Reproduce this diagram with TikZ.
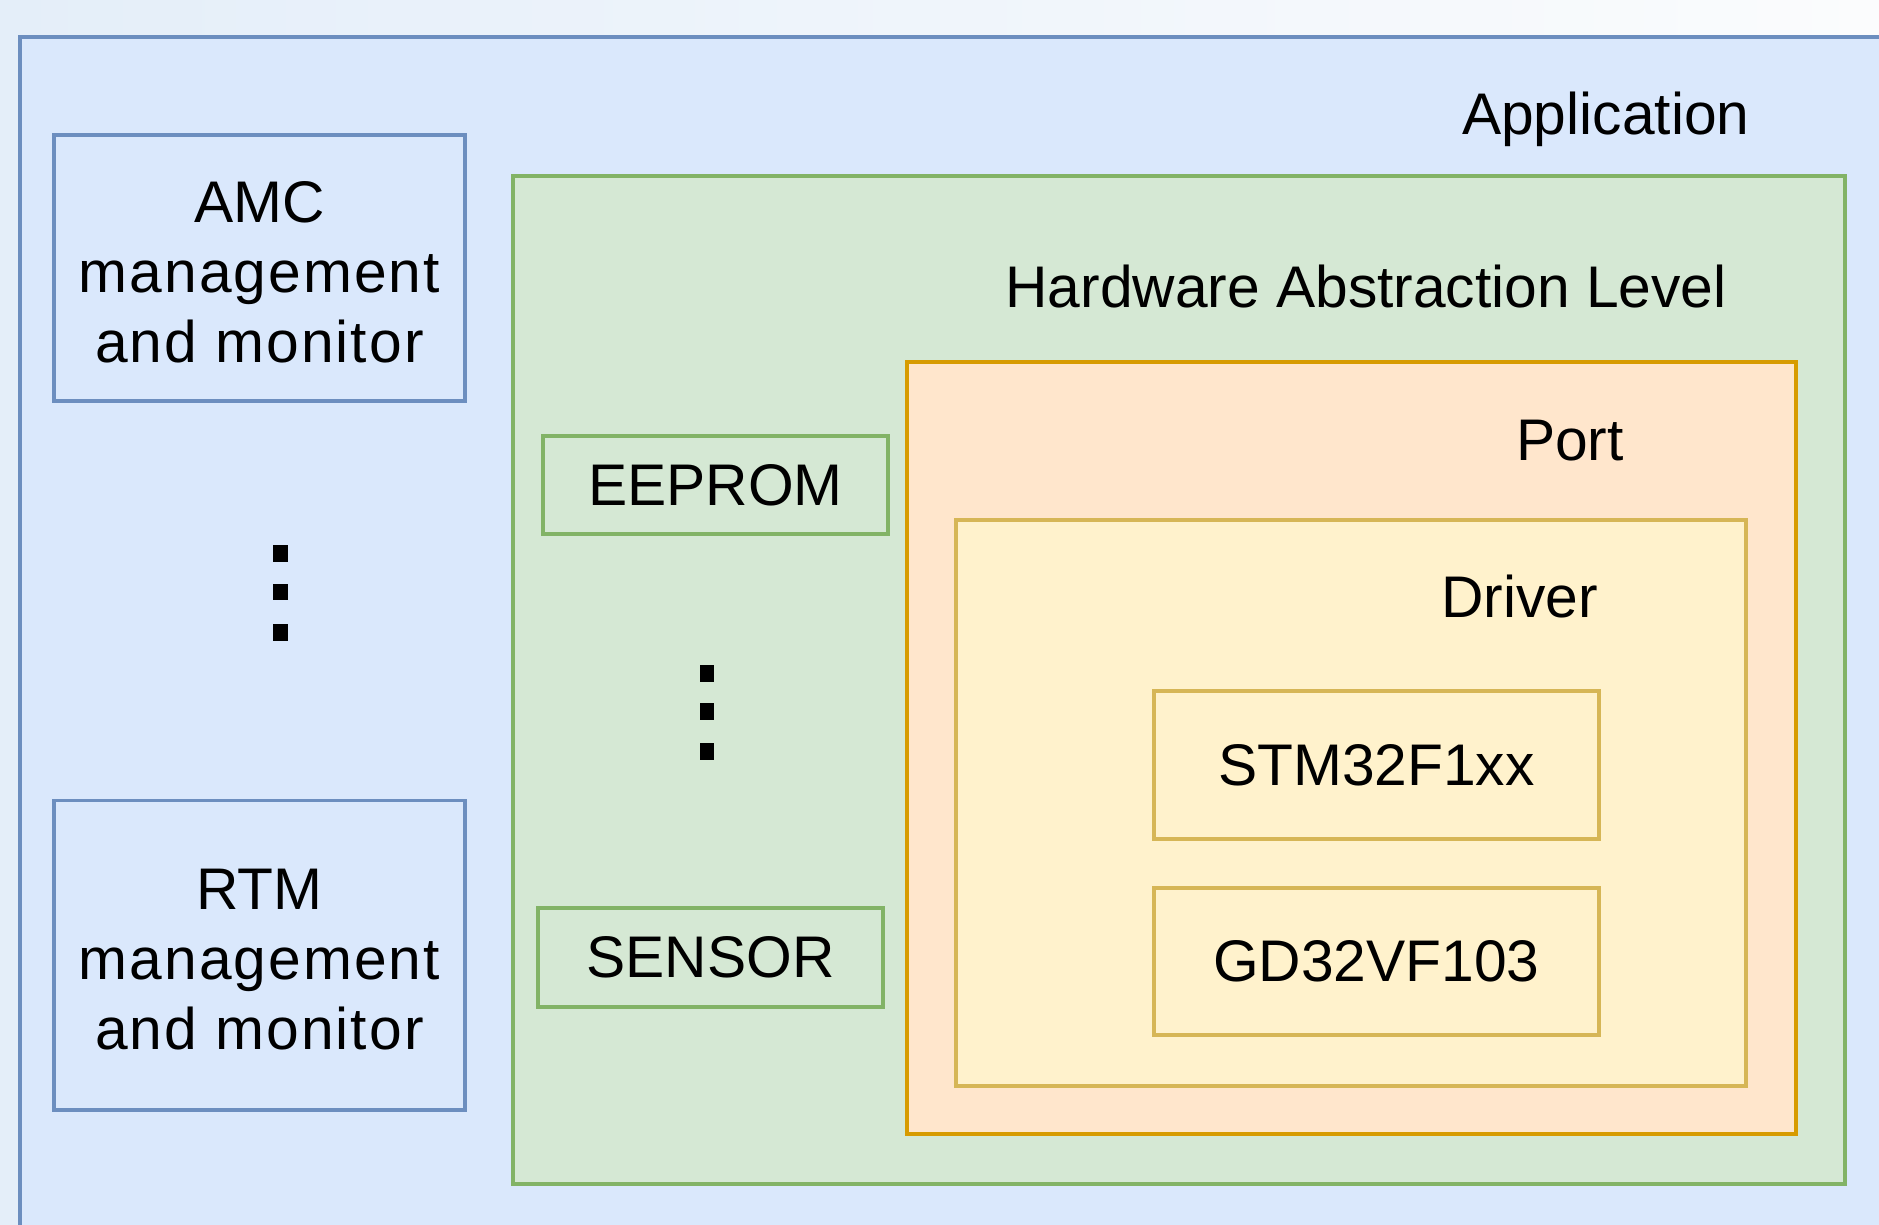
\documentclass[tikz,border=0pt]{standalone}
\usepackage{fontspec}
\setmainfont{Liberation Sans}
\definecolor{appfill}{HTML}{DAE8FC}
\definecolor{appline}{HTML}{6C8EBF}
\definecolor{halfill}{HTML}{D5E8D4}
\definecolor{halline}{HTML}{82B366}
\definecolor{portfill}{HTML}{FFE6CC}
\definecolor{portline}{HTML}{D79B00}
\definecolor{drvfill}{HTML}{FFF2CC}
\definecolor{drvline}{HTML}{D6B656}
\definecolor{bgleft}{HTML}{E4EEF9}
\definecolor{bgright}{HTML}{FBFCFD}
\newcommand{\wide}[1]{{\addfontfeature{LetterSpace=3.5}#1}}
\begin{document}
\begin{tikzpicture}[x=1pt,y=-1pt,
  every node/.style={font=\fontsize{49}{58.5}\selectfont, inner sep=0pt, outer sep=0pt},
  bluebox/.style={draw=appline, fill=appfill, line width=3.3pt},
  greenbox/.style={draw=halline, fill=halfill, line width=3.3pt},
  portbox/.style={draw=portline, fill=portfill, line width=3.3pt},
  drvbox/.style={draw=drvline, fill=drvfill, line width=3.3pt},
  lbl/.style={anchor=base},
  multi/.style={align=center},
  dotsq/.style={fill=black, minimum width=12pt, minimum height=14pt}]
\clip (0,0) rectangle (1568,1022);
\shade[left color=bgleft, right color=bgright] (0,0) rectangle (1568,1022);
% Application
\node[bluebox, minimum width=1620pt, minimum height=1060pt, anchor=north west] (app) at (17,31) {};
\node[lbl] (applbl) at (1340,112) {Application};
\node[bluebox, minimum width=343pt, minimum height=222pt] (amc) at (216.5,224) {};
\node[multi] (amctext) at (216.5,227) {AMC\\\wide{management}\\\wide{and monitor}};
\node[dotsq] (d1) at (234,462) {};
\node[dotsq] (d2) at (234,494) {};
\node[dotsq] (d3) at (234,528) {};
\node[bluebox, minimum width=343pt, minimum height=258pt] (rtm) at (216.5,797) {};
\node[multi] (rtmtext) at (216.5,801) {RTM\\\wide{management}\\\wide{and monitor}};
% HAL
\node[greenbox, minimum width=1112pt, minimum height=841pt] (hal) at (984,567.5) {};
\node[lbl] (hallbl) at (1140,257) {Hardware Abstraction Level};
\node[greenbox, minimum width=288pt, minimum height=82pt] (eeprom) at (597,405) {EEPROM};
\node[dotsq] (e1) at (590,562) {};
\node[dotsq] (e2) at (590,594) {};
\node[dotsq] (e3) at (590,627) {};
\node[greenbox, minimum width=288pt, minimum height=82pt] (sensor) at (593,799) {SENSOR};
% Port
\node[portbox, minimum width=742pt, minimum height=644pt] (port) at (1128,624) {};
\node[lbl] (portlbl) at (1310,384) {Port};
% Driver
\node[drvbox, minimum width=659pt, minimum height=472pt] (drv) at (1127.5,670) {};
\node[lbl] (drvlbl) at (1268,515) {Driver};
\node[drvbox, minimum width=371pt, minimum height=123pt] (stm) at (1148.5,638.5) {STM32F1xx};
\node[drvbox, minimum width=371pt, minimum height=123pt] (gd) at (1148.5,802.5) {GD32VF103};
\end{tikzpicture}
\end{document}
